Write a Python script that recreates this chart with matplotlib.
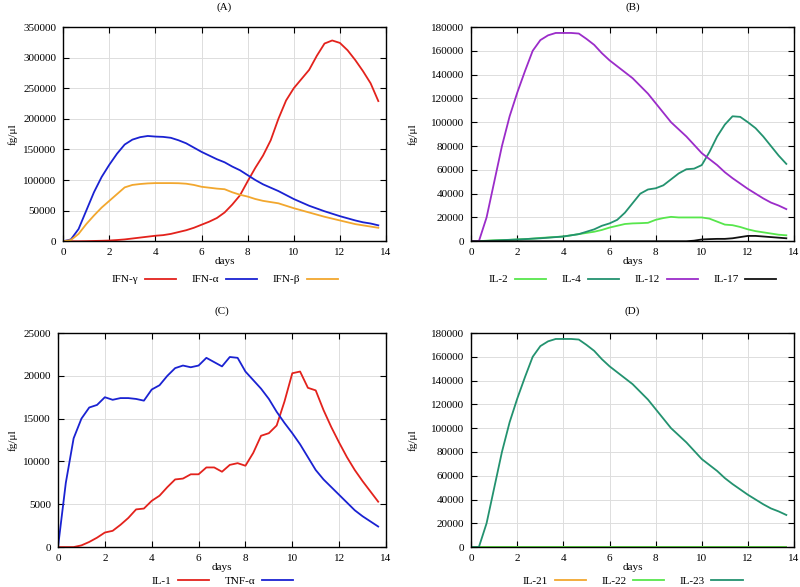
import numpy as np
import matplotlib
matplotlib.use("Agg")
import matplotlib.pyplot as plt

# sampling every 8 hours, 0 .. 13.67 days
days = np.arange(42) / 3.0

# (A) interferons
ifn_gamma = [0, 0, 0, 200, 500, 800, 1200, 2000, 3000, 4500, 6000, 7500, 9000, 10000,
             12000, 15000, 18000, 22000, 27000, 32000, 38000, 47000, 60000, 75000,
             98000, 120000, 140000, 165000, 200000, 230000, 250000, 265000, 280000,
             303000, 323000, 328000, 324000, 312000, 296000, 278000, 258000, 229000]
ifn_alpha = [0, 3000, 20000, 50000, 80000, 105000, 125000, 143000, 158000, 166000,
             170000, 172000, 171000, 170500, 169000, 165000, 160000, 153000, 146000,
             140000, 134000, 129000, 122000, 116000, 108000, 100000, 93000, 87500,
             82000, 75500, 69000, 63500, 58000, 53500, 49000, 45000, 41000, 37500,
             34000, 31000, 29000, 26000]
ifn_beta = [0, 2000, 12000, 28000, 42000, 55000, 66000, 77000, 88000, 92000, 93500,
            94500, 95000, 95000, 95000, 94800, 94000, 92000, 89000, 87500, 86000,
            85000, 80000, 76000, 73000, 69000, 66000, 64000, 62000, 58000, 54000,
            50500, 47000, 43500, 40000, 37000, 34000, 31000, 28000, 26000, 24000, 22000]

# (B) interleukins
il2 = [0, 0, 500, 800, 1000, 1200, 1500, 1800, 2200, 2800, 3200, 3600, 4000, 5000,
       6000, 7000, 8000, 9500, 11500, 13000, 14500, 15000, 15200, 15500, 18000, 19500,
       20500, 20000, 20000, 20000, 20000, 19000, 16500, 14000, 13500, 12000, 10000,
       8500, 7500, 6500, 5500, 5000]
il4 = [0, 0, 300, 600, 900, 1200, 1500, 1800, 2200, 2500, 3000, 3500, 4000, 5000,
       6000, 8000, 10000, 13000, 15000, 18000, 24000, 32000, 40000, 43500, 44500, 47000,
       52000, 57000, 60500, 61000, 64000, 75000, 88000, 98000, 105000, 104500, 100000,
       95000, 88000, 80000, 72000, 65000]
il12 = [0, 0, 20000, 50000, 80000, 105000, 125000, 143000, 160000, 169000, 173000,
        175000, 175000, 175000, 174500, 170000, 165000, 158000, 152000, 147000, 142000,
        137000, 130500, 124000, 116000, 108000, 100000, 94000, 88000, 81000, 74000,
        69000, 64000, 58000, 53000, 48500, 44000, 40000, 36000, 32500, 30000, 27000]
il17 = [0] * 27 + [0, 0, 500, 1500, 1800, 2000, 2000, 2500, 3500, 4500, 4500, 4000,
                   3500, 3000, 2500]

# (C) IL-1 and TNF-a
il1 = [0, 0, 0, 200, 600, 1100, 1700, 1900, 2600, 3400, 4400, 4500, 5400, 6000, 7000,
       7900, 8000, 8500, 8500, 9300, 9300, 8800, 9600, 9800, 9500, 11000, 13000, 13300,
       14200, 17000, 20300, 20500, 18600, 18300, 16000, 14000, 12200, 10500, 9000,
       7700, 6500, 5300]
tnf_alpha = [0, 7500, 12700, 15000, 16300, 16600, 17500, 17200, 17400, 17400, 17300,
             17100, 18400, 18900, 20000, 20900, 21200, 21000, 21200, 22100, 21600,
             21100, 22200, 22100, 20500, 19500, 18500, 17300, 15800, 14500, 13300,
             12000, 10500, 9000, 7900, 7000, 6100, 5200, 4300, 3600, 3000, 2400]

# (D)
il21 = [0] * 42
il22 = [0] * 42
il23 = il12

RED = "#e3221c"
BLUE = "#1a22d2"
ORANGE = "#f2a72e"
GREEN = "#57e64c"
TEAL = "#23926f"
PURPLE = "#9b2cc9"
BLACK = "#111111"

plt.rcParams["font.family"] = ["Liberation Serif", "DejaVu Serif"]
plt.rcParams["font.size"] = 8

fig = plt.figure(figsize=(8.0, 5.87), dpi=100)

# title, axes rect, ymax, ystep, series, title y, legend y, ylabel x
panels = [
    ("(A)", [0.079, 0.589, 0.4035, 0.365], 350000, 50000,
     [("IFN-γ", ifn_gamma, RED), ("IFN-α", ifn_alpha, BLUE), ("IFN-β", ifn_beta, ORANGE)],
     0.988, 0.506, 0.016),
    ("(B)", [0.589, 0.589, 0.4035, 0.365], 180000, 20000,
     [("IL-2", il2, GREEN), ("IL-4", il4, TEAL), ("IL-12", il12, PURPLE), ("IL-17", il17, BLACK)],
     0.988, 0.506, 0.516),
    ("(C)", [0.0725, 0.068, 0.41, 0.3647], 25000, 5000,
     [("IL-1", il1, RED), ("TNF-α", tnf_alpha, BLUE)],
     0.470, -0.008, 0.016),
    ("(D)", [0.589, 0.068, 0.4035, 0.3647], 180000, 20000,
     [("IL-21", il21, ORANGE), ("IL-22", il22, GREEN), ("IL-23", il23, TEAL)],
     0.470, -0.008, 0.516),
]

for title, rect, ymax, ystep, series, title_y, legend_y, ylab_x in panels:
    ax = fig.add_axes(rect)
    for label, values, color in series:
        ax.plot(days, values, color=color, lw=1.3, label=label)
    ax.set_xlim(0, 14)
    ax.set_ylim(0, ymax)
    ax.set_xticks(np.arange(0, 15, 2))
    ax.set_yticks(np.arange(0, ymax + 1, ystep))
    ax.grid(True, color="#dddddd", lw=0.7)
    ax.set_axisbelow(True)
    ax.tick_params(direction="in", top=True, right=True, length=4, width=0.8, pad=5)
    for s in ax.spines.values():
        s.set_linewidth(1.0)
    ax.set_xlabel("days", labelpad=0)
    cx = rect[0] + rect[2] / 2
    fig.text(ylab_x, rect[1] + rect[3] / 2, "fg/μl", rotation=90, ha="center", va="center")
    fig.text(cx, title_y, title, ha="center", va="center")
    fig.legend(handles=ax.get_lines(), loc="lower center", bbox_to_anchor=(cx, legend_y),
               ncol=len(series), frameon=False, markerfirst=False, handlelength=2.8,
               columnspacing=1.4, handletextpad=0.6, borderpad=0)

fig.savefig("out.png", dpi=100)
